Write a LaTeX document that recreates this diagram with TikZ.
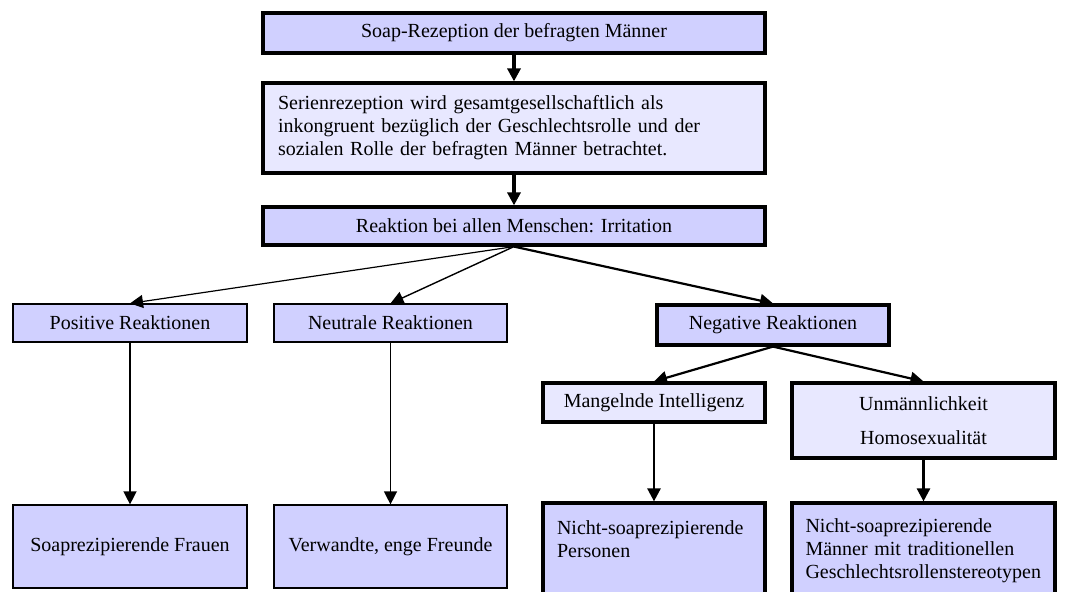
\documentclass[tikz,border=0pt]{standalone}
\usepackage{fontspec}
\setmainfont{Liberation Serif}
\usetikzlibrary{arrows.meta}

\begin{document}
\begin{tikzpicture}[x=0.5pt,y=-0.5pt,font=\fontsize{10}{11.5}\selectfont,
    thinbox/.style={shape=rectangle,draw,line width=0.6pt,inner sep=0pt},
    thickbox/.style={shape=rectangle,draw,line width=1.6pt,inner sep=0pt},
    arr/.style={-{Triangle[width=6.5pt,length=6.5pt]}}]
    \definecolor{soap_bgbox}{RGB}{208,208,255}
    \definecolor{soap_bgboxB}{RGB}{232,232,255}
    \useasboundingbox (0,0) rectangle (1076,592);
    \clip (0,0) rectangle (1076,592);
    % Kette oben
    \node[thickbox,fill=soap_bgbox,minimum width=251pt,minimum height=20pt] (rez) at (514,33) {Soap-Rezeption der befragten Männer};
    \node[thickbox,fill=soap_bgboxB,minimum height=45pt,text width=236pt,inner xsep=7.5pt,align=left] (inkon) at (514,128)
        {Serienrezeption wird gesamtgesellschaftlich als\\inkongruent bezüglich der Geschlechtsrolle und der\\sozialen Rolle der befragten Männer betrachtet.};
    \node[thickbox,fill=soap_bgbox,minimum width=251pt,minimum height=19pt] (irr) at (514,226) {Reaktion bei allen Menschen: Irritation};
    % Reaktionen
    \node[thinbox,fill=soap_bgbox,minimum width=117pt,minimum height=19pt]   (pos) at (130,323) {Positive Reaktionen};
    \node[thinbox,fill=soap_bgbox,minimum width=116.5pt,minimum height=19pt] (neu) at (390.5,323) {Neutrale Reaktionen};
    \node[thickbox,fill=soap_bgbox,minimum width=116pt,minimum height=20pt]  (neg) at (773,325) {Negative Reaktionen};
    \node[thickbox,fill=soap_bgboxB,minimum width=111pt,minimum height=19.5pt] (intel) at (654,402.5) {Mangelnde Intelligenz};
    \node[thickbox,fill=soap_bgboxB,minimum width=131.5pt,minimum height=37.5pt,align=center] (unm) at (923.5,420.5) {Unmännlichkeit\\[5.5pt]Homosexualität};
    % Personengruppen unten
    \node[thinbox,fill=soap_bgbox,minimum width=117pt,minimum height=41.5pt]   (frauen) at (130,546.5) {Soaprezipierende Frauen};
    \node[thinbox,fill=soap_bgbox,minimum width=116.5pt,minimum height=41.5pt] (freunde) at (390.5,546.5) {Verwandte, enge Freunde};
    \node[thickbox,fill=soap_bgbox,minimum height=48pt,text width=97pt,inner xsep=7pt,align=left] (pers) at (654,551)
        {Nicht-soaprezipierende\\Personen\\~};
    \node[thickbox,fill=soap_bgbox,minimum height=48pt,text width=118pt,inner xsep=6.75pt,align=left] (maenner) at (923.5,551)
        {Nicht-soaprezipierende\\Männer mit traditionellen\\Geschlechtsrollenstereotypen};
    % Pfeile
    \draw[arr,line width=1.6pt] (rez) -- (inkon);
    \draw[arr,line width=1.6pt] (inkon) -- (irr);
    \draw[arr,line width=0.6pt] (irr.south) -- (pos.north);
    \draw[arr,line width=0.7pt] (irr.south) -- (neu.north);
    \draw[arr,line width=1.1pt] (irr.south) -- (neg.north);
    \draw[arr,line width=0.7pt] (pos) -- (frauen);
    \draw[arr,line width=0.7pt] (neu) -- (freunde);
    \draw[arr,line width=1.1pt] (neg.south) -- (intel.north);
    \draw[arr,line width=1.1pt] (neg.south) -- (unm.north);
    \draw[arr,line width=1.3pt] (intel) -- (pers);
    \draw[arr,line width=1.3pt] (unm) -- (maenner);
\end{tikzpicture}
\end{document}
